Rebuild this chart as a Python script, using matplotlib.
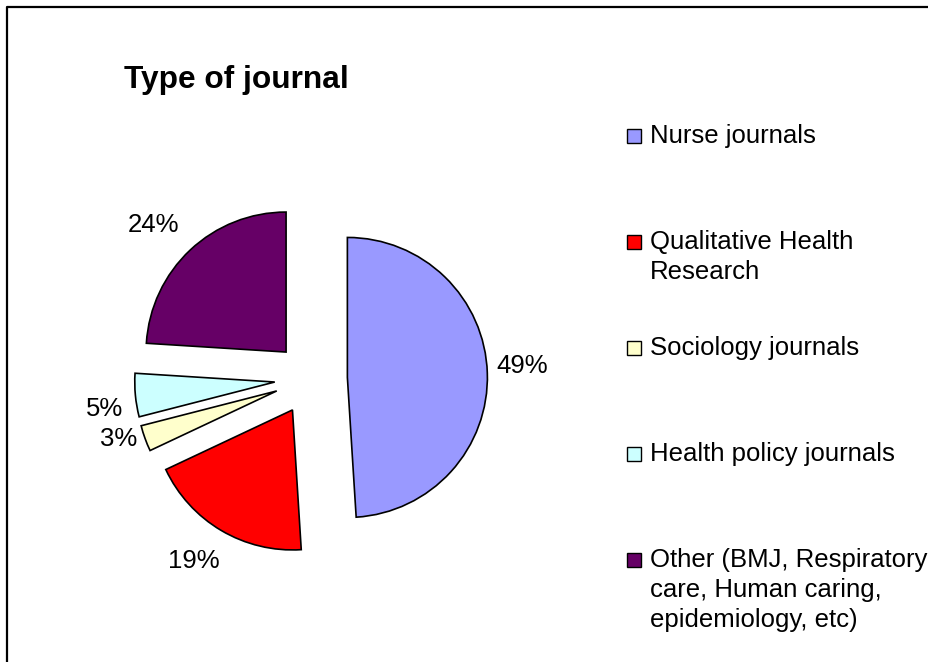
import numpy as np
import matplotlib.pyplot as plt
from matplotlib.lines import Line2D
from matplotlib.patches import Rectangle

plt.rcParams['font.family'] = ['Liberation Sans', 'DejaVu Sans']

# data
categories = ['Nurse journals', 'Qualitative Health\nResearch', 'Sociology journals',
              'Health policy journals', 'Other (BMJ, Respiratory\ncare, Human caring,\nepidemiology, etc)']
shares = [49, 19, 3, 5, 24]
colors = ['#9999FF', '#FF0000', '#FFFFCC', '#CCFFFF', '#660066']

# label placement tweaks (radius multiple, angle offset in degrees), Excel-ish
label_dist = [1.25, 1.29, 1.18, 1.23, 1.31]
label_dang = [2, -2.5, -3, 3.5, 3]

W, H = 929, 662
fig = plt.figure(figsize=(W / 100, H / 100), dpi=100)

# pie centre at (311, 378.6) px, radius 140 px -> axes spans 4 radii
cx, cy, r = 311, 378.6, 140
ax = fig.add_axes([(cx - 2 * r) / W, (H - cy - 2 * r) / H, 4 * r / W, 4 * r / H])
wedges, _ = ax.pie(shares, colors=colors, startangle=90, counterclock=False,
                   explode=[0.26] * len(shares), radius=1,
                   wedgeprops=dict(edgecolor='black', linewidth=1.2))
for w, v, d, da in zip(wedges, shares, label_dist, label_dang):
    ang = np.deg2rad((w.theta1 + w.theta2) / 2 + da)
    x0, y0 = w.center
    ax.text(x0 + d * np.cos(ang), y0 + d * np.sin(ang), f'{v}%', fontsize=18.5,
            ha='center', va='center')
ax.set_xlim(-2, 2)
ax.set_ylim(-2, 2)
ax.set_aspect('equal')
ax.axis('off')

# title
fig.text(124 / W, 1 - 88 / H, 'Type of journal', fontsize=22.8, fontweight='bold',
         ha='left', va='baseline')

# legend (marker aligned with first line of each entry)
for i, (lab, col) in enumerate(zip(categories, colors)):
    yb = 143 + 106 * i
    fig.patches.append(Rectangle((627 / W, 1 - (yb) / H), 14 / W, 14 / H,
                                 transform=fig.transFigure, facecolor=col,
                                 edgecolor='black', linewidth=1.0))
    fig.text(650 / W, 1 - (yb - 19) / H, lab, fontsize=18.5, ha='left', va='top',
             linespacing=1.32)

# chart border (left and top only visible)
fig.add_artist(Line2D([7.5 / W, 7.5 / W, 1], [0, 1 - 6.5 / H, 1 - 6.5 / H],
                      transform=fig.transFigure, color='black', linewidth=1.6))

fig.savefig('out.png', dpi=100, facecolor='white')
